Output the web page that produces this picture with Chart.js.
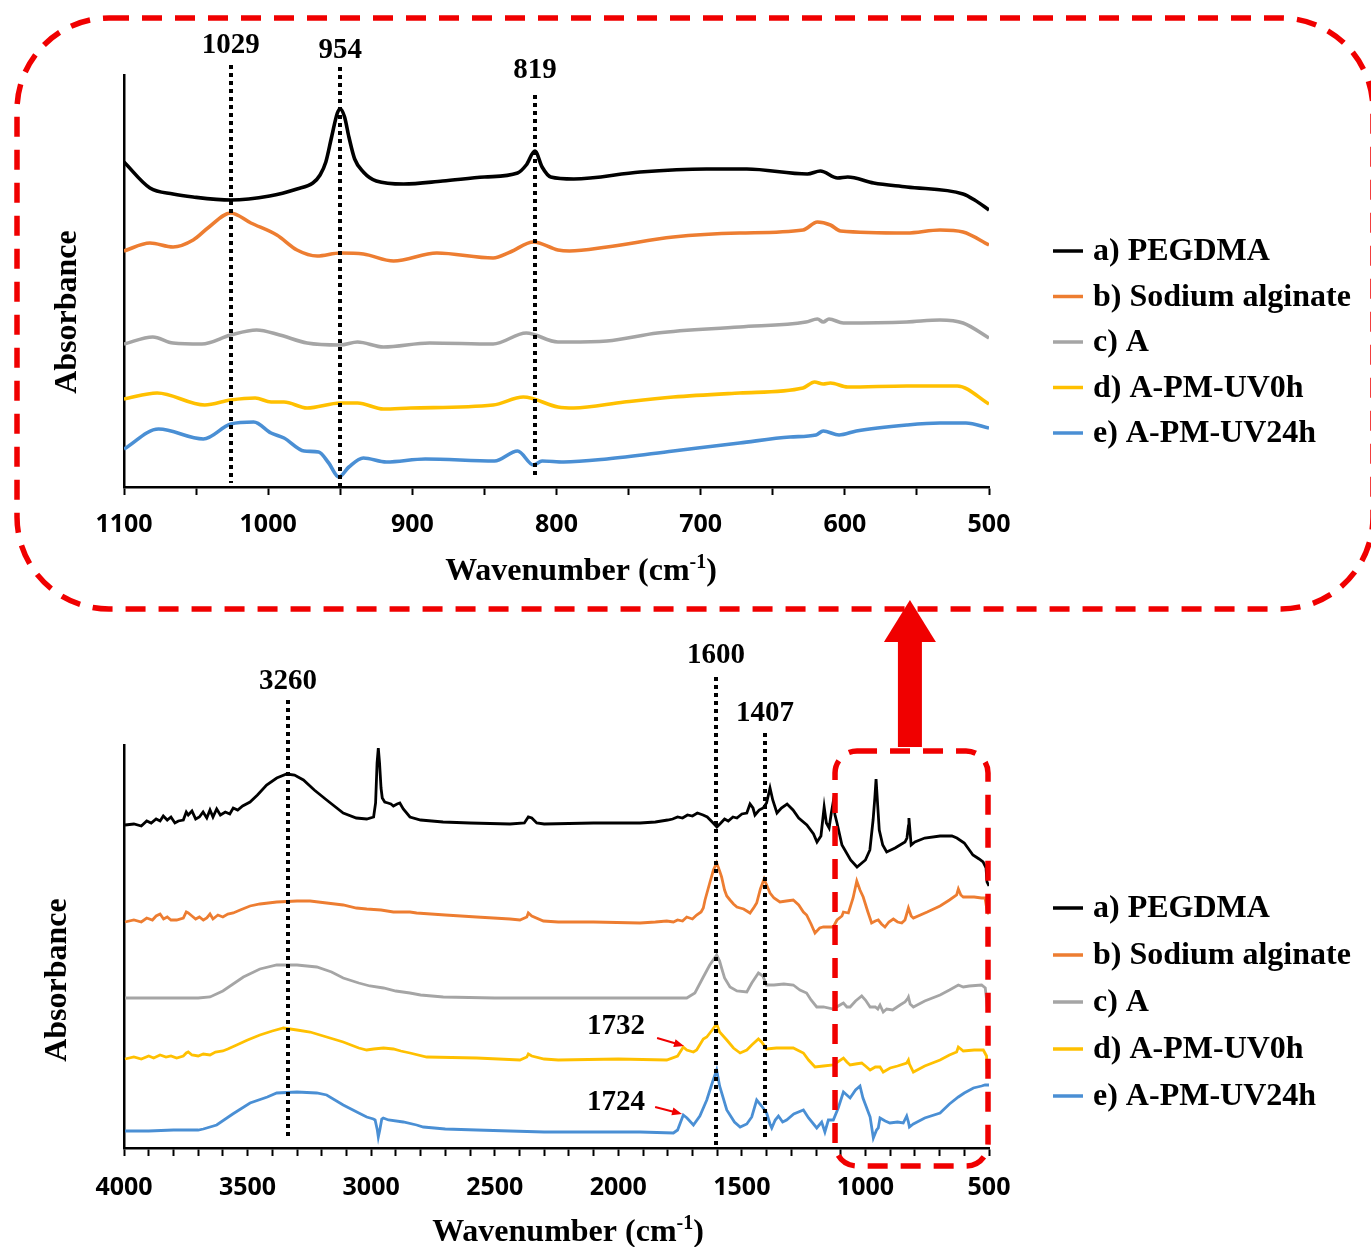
<!DOCTYPE html>
<html>
<head>
<meta charset="utf-8">
<script src="https://cdn.jsdelivr.net/npm/chart.js@4.4.1/dist/chart.umd.min.js"></script>
<style>
  html, body { margin: 0; padding: 0; background: #fff; }
  #wrap { position: relative; width: 1371px; height: 1247px; }
  #wrap canvas { position: absolute; left: 0; top: 0; }
</style>
</head>
<body>
<div id="wrap">
  <canvas id="zoomChart" width="1371" height="1247"></canvas>
  <canvas id="fullChart" width="1371" height="1247"></canvas>
</div>
<script>
// FTIR spectra - absorbance in arbitrary units (curves are offset for clarity)

const seriesLabels = ['a) PEGDMA', 'b) Sodium alginate', 'c) A', 'd) A-PM-UV0h', 'e) A-PM-UV24h'];
const seriesColors = ['#000000', '#ED7D31', '#A5A5A5', '#FFC000', '#4A8FD4'];

// ---- zoomed region 1100 - 500 cm-1 : [wavenumber, absorbance]
const zoomPEGDMA = [[1100,325],[1082,299],[1066,293],[1052,290],[1026,287],[999,291],[980,298],[969,304],[964,312],[960,325],[956,350],[952,374],[950,378],[947,370],[944,350],[940,328],[934,315],[925,306],[906,303],[879,306],[850,310],[827,314],[821,322],[815,336],[810,320],[804,310],[788,308],[742,315],[696,318],[668,318],[626,313],[617,316],[605,309],[598,310],[580,304],[557,300],[518,293],[510,287],[500,277]];
const zoomAlginate = [[1100,236],[1082,244],[1066,240],[1052,247],[1041,260],[1026,274],[1012,264],[994,252],[980,237],[966,231],[950,234],[934,233],[913,226],[883,234],[844,229],[832,235],[816,245],[799,237],[791,236],[765,240],[719,250],[673,254],[629,257],[619,265],[610,262],[603,256],[557,254],[534,257],[518,255],[500,242]];
const zoomA = [[1100,143],[1080,150],[1066,144],[1046,143],[1026,152],[1008,157],[992,152],[973,144],[950,142],[938,145],[920,140],[888,144],[844,143],[821,154],[799,145],[792,145],[765,146],[730,154],[673,160],[627,165],[619,168],[615,165],[611,168],[601,164],[557,165],[534,167],[518,164],[500,149]];
const zoomUV0h = [[1100,88],[1077,94],[1044,82],[1026,87],[1009,89],[998,85],[989,85],[973,79],[950,84],[938,84],[920,78],[901,79],[844,82],[823,90],[799,80],[788,79],[753,85],[719,90],[673,94],[629,99],[621,105],[615,103],[610,104],[598,100],[557,101],[522,101],[500,83]];
const zoomUV24h = [[1100,38],[1076,58],[1045,48],[1026,63],[1010,65],[998,54],[989,49],[975,36],[965,35],[958,24],[951,10],[944,20],[934,29],[918,25],[891,28],[843,26],[827,36],[816,22],[810,26],[795,25],[765,28],[719,36],[673,44],[638,50],[620,52],[615,56],[604,52],[592,56],[557,62],[534,64],[516,64],[500,59]];

// ---- full spectrum 4000 - 500 cm-1 : [wavenumber, absorbance]
const fullPEGDMA = [[3996,323],[3960,324],[3930,322],[3908,327],[3890,325],[3870,329],[3854,327],[3841,332],[3825,328],[3810,331],[3794,325],[3780,327],[3760,328],[3748,336],[3740,333],[3725,337],[3710,329],[3695,331],[3680,336],[3665,330],[3652,338],[3640,331],[3625,339],[3610,333],[3590,336],[3572,334],[3558,340],[3540,338],[3520,342],[3490,346],[3460,353],[3423,363],[3382,370],[3342,374],[3310,373],[3274,368],[3230,358],[3180,348],[3113,335],[3060,330],[3018,329],[2990,331],[2982,345],[2976,385],[2971,400],[2966,385],[2960,360],[2955,350],[2945,346],[2932,345],[2920,344],[2910,342],[2895,344],[2884,345],[2870,339],[2843,331],[2800,328],[2709,326],[2600,325],[2438,324],[2380,325],[2364,331],[2350,330],[2330,325],[2300,324],[2100,325],[1912,325],[1850,326],[1800,328],[1780,329],[1760,331],[1740,330],[1720,333],[1700,332],[1680,335],[1657,333],[1640,331],[1620,326],[1601,321],[1585,325],[1570,329],[1555,327],[1536,331],[1520,330],[1500,334],[1480,335],[1467,344],[1455,340],[1447,333],[1430,338],[1414,340],[1400,345],[1386,360],[1375,348],[1358,335],[1340,340],[1317,344],[1293,338],[1270,330],[1237,323],[1210,314],[1196,306],[1180,312],[1167,341],[1158,325],[1147,320],[1138,335],[1131,345],[1123,333],[1115,325],[1095,303],[1060,288],[1034,281],[1000,288],[982,298],[969,328],[962,350],[957,369],[951,345],[944,318],[930,303],[914,296],[880,300],[840,306],[832,310],[826,322],[824,330],[820,318],[815,303],[800,306],[760,310],[698,312],[650,312],[630,310],[600,305],[565,293],[540,289],[524,286],[512,280],[508,266],[500,262]];
const fullAlginate = [[3996,226],[3960,228],[3930,226],[3908,230],[3885,228],[3870,232],[3854,234],[3840,229],[3825,231],[3810,228],[3787,228],[3760,230],[3748,236],[3740,235],[3725,232],[3710,229],[3695,231],[3679,228],[3665,230],[3652,234],[3640,229],[3620,233],[3600,231],[3580,234],[3558,235],[3530,238],[3490,242],[3450,244],[3382,246],[3300,247],[3247,247],[3180,245],[3113,243],[3060,240],[3018,239],[2960,238],[2910,236],[2843,236],[2816,235],[2700,233],[2573,231],[2438,229],[2398,228],[2370,231],[2364,235],[2350,232],[2303,227],[2243,226],[2100,226],[1912,225],[1850,226],[1804,227],[1777,226],[1760,228],[1740,227],[1723,231],[1700,229],[1683,233],[1665,236],[1656,240],[1649,248],[1630,265],[1615,278],[1602,285],[1590,277],[1582,271],[1570,258],[1561,252],[1548,248],[1534,244],[1520,241],[1507,240],[1493,239],[1480,237],[1467,235],[1450,241],[1440,245],[1425,259],[1410,269],[1400,263],[1386,255],[1370,250],[1346,246],[1320,247],[1292,248],[1270,243],[1251,236],[1238,233],[1220,224],[1204,215],[1185,220],[1170,221],[1130,221],[1115,228],[1095,232],[1089,236],[1069,235],[1050,250],[1035,267],[1022,258],[1009,251],[990,236],[975,225],[960,227],[948,228],[935,224],[921,221],[905,226],[887,229],[870,226],[853,225],[840,228],[826,240],[815,232],[806,230],[750,236],[698,242],[660,248],[631,253],[624,259],[614,253],[604,251],[560,251],[530,250],[516,250],[507,236],[500,234]];
const fullA = [[3996,150],[3900,150],[3787,150],[3700,150],[3652,151],[3600,157],[3517,171],[3450,179],[3382,183],[3300,183],[3220,181],[3160,176],[3113,170],[3050,165],[3005,162],[2950,160],[2900,157],[2843,155],[2800,153],[2708,151],[2500,150],[2317,150],[1900,150],[1723,150],[1690,155],[1656,171],[1630,183],[1602,193],[1590,187],[1582,180],[1570,170],[1548,161],[1520,157],[1480,156],[1460,165],[1433,175],[1415,172],[1400,163],[1370,163],[1330,164],[1292,163],[1265,158],[1238,155],[1220,148],[1197,141],[1170,141],[1130,139],[1096,144],[1089,145],[1075,141],[1062,141],[1040,147],[1015,152],[1000,148],[981,141],[960,141],[950,139],[941,143],[928,136],[914,139],[890,138],[860,143],[840,146],[830,149],[826,151],[819,144],[806,141],[760,147],[698,153],[660,158],[624,163],[604,161],[580,162],[530,163],[515,160],[507,141],[500,137]];
const fullUV0h = [[3996,89],[3960,91],[3930,89],[3900,92],[3880,90],[3854,93],[3830,91],[3810,92],[3787,90],[3760,92],[3748,95],[3740,96],[3725,93],[3700,92],[3679,94],[3652,93],[3630,96],[3600,97],[3580,99],[3544,103],[3500,108],[3450,113],[3400,117],[3355,120],[3300,118],[3247,116],[3180,111],[3113,106],[3050,100],[3018,98],[2990,99],[2950,100],[2910,99],[2880,97],[2843,95],[2775,91],[2573,90],[2398,88],[2370,91],[2364,94],[2350,92],[2300,89],[2243,88],[2000,89],[1804,88],[1760,92],[1737,101],[1723,98],[1696,96],[1683,98],[1656,109],[1642,111],[1620,118],[1602,124],[1590,116],[1561,108],[1534,100],[1507,95],[1480,98],[1460,103],[1433,109],[1420,106],[1400,99],[1360,100],[1320,100],[1292,100],[1251,95],[1230,88],[1204,81],[1170,82],[1130,83],[1089,90],[1075,86],[1062,83],[1040,84],[1015,85],[1000,82],[981,78],[960,81],[941,81],[928,76],[900,80],[870,82],[833,85],[826,88],[822,84],[806,76],[760,82],[698,88],[660,93],[631,96],[624,101],[604,97],[560,98],[523,98],[510,92],[507,78],[500,76]];
const fullUV24h = [[3996,17],[3900,17],[3800,18],[3700,18],[3679,19],[3625,23],[3560,34],[3490,45],[3420,51],[3382,55],[3300,56],[3220,55],[3180,53],[3113,43],[3050,35],[3018,31],[2991,29],[2984,28],[2975,18],[2971,11],[2965,18],[2957,29],[2951,30],[2930,28],[2870,26],[2816,23],[2789,21],[2700,19],[2573,18],[2438,17],[2300,16],[2100,16],[1912,16],[1777,15],[1760,18],[1737,33],[1722,30],[1696,23],[1670,32],[1642,48],[1620,65],[1602,78],[1590,62],[1561,38],[1530,26],[1507,21],[1480,24],[1460,31],[1440,48],[1420,42],[1400,35],[1386,24],[1379,20],[1365,28],[1352,32],[1335,26],[1319,28],[1290,34],[1251,38],[1230,30],[1197,20],[1177,26],[1164,16],[1150,28],[1130,28],[1110,40],[1089,56],[1062,50],[1040,58],[1022,62],[1010,50],[981,31],[968,10],[955,18],[948,20],[941,30],[920,27],[901,25],[870,26],[847,25],[833,32],[826,26],[822,21],[806,24],[760,30],[698,35],[660,44],[624,51],[600,55],[563,60],[530,62],[516,63],[500,63]];

// peak markers: wavenumber of the dotted line, printed label, line span and label height (absorbance units)
const zoomMarkers = [
  { wn: 1026, text: '1029', from: 422, to: 4, at: 441 },
  { wn: 950, text: '954', from: 420, to: 0, at: 436 },
  { wn: 815, text: '819', from: 392, to: 9, at: 416 }
];
const fullMarkers = [
  { wn: 3336, text: '3260', from: 448, to: 10, at: 466 },
  { wn: 1605, text: '1600', from: 471, to: 0, at: 492 },
  { wn: 1406, text: '1407', from: 415, to: 8, at: 434 }
];
const fullNotes = [
  { text: '1732', wn: 2009, at: 121, from: [1843, 110], to: [1734, 102] },
  { text: '1724', wn: 2009, at: 45, from: [1851, 41], to: [1742, 34] }
];

const serif = '"Liberation Serif", "Times New Roman", serif';
const RED = '#f00000';

function makeDatasets(list, width, smooth) {
  return list.map((pts, i) => ({
    label: seriesLabels[i],
    data: pts.map(p => ({ x: p[0], y: p[1] })),
    borderColor: seriesColors[i],
    backgroundColor: seriesColors[i],
    borderWidth: width,
    pointRadius: 0,
    fill: false,
    cubicInterpolationMode: smooth ? 'monotone' : 'default',
    tension: 0
  }));
}

function drawXTitle(ctx, cx, cy) {
  const main = 'bold 32px ' + serif, sup = 'bold 20px ' + serif;
  ctx.font = main;
  const w1 = ctx.measureText('Wavenumber (cm').width;
  const w3 = ctx.measureText(')').width;
  ctx.font = sup;
  const w2 = ctx.measureText('-1').width;
  let x = cx - (w1 + w2 + w3) / 2;
  ctx.textAlign = 'left';
  ctx.textBaseline = 'alphabetic';
  ctx.font = main;
  ctx.fillText('Wavenumber (cm', x, cy + 11);
  ctx.font = sup;
  ctx.fillText('-1', x + w1, cy - 1);
  ctx.font = main;
  ctx.fillText(')', x + w1 + w2, cy + 11);
}

const figurePlugin = {
  id: 'figure',
  afterDraw(chart, args, o) {
    const ctx = chart.ctx, xs = chart.scales.x, ys = chart.scales.y;
    ctx.save();

    // dotted peak lines + labels
    ctx.strokeStyle = '#000';
    ctx.lineWidth = 4;
    ctx.setLineDash([4, 4]);
    o.markers.forEach(m => {
      const px = Math.round(xs.getPixelForValue(m.wn));
      ctx.beginPath();
      ctx.moveTo(px, ys.getPixelForValue(m.from));
      ctx.lineTo(px, ys.getPixelForValue(m.to));
      ctx.stroke();
    });
    ctx.setLineDash([]);
    ctx.fillStyle = '#000';
    ctx.font = 'bold 29px ' + serif;
    ctx.textAlign = 'center';
    ctx.textBaseline = 'middle';
    o.markers.forEach(m => ctx.fillText(m.text, xs.getPixelForValue(m.wn), ys.getPixelForValue(m.at)));

    // small red arrows with notes
    (o.notes || []).forEach(n => {
      ctx.fillStyle = '#000';
      ctx.fillText(n.text, xs.getPixelForValue(n.wn), ys.getPixelForValue(n.at));
      const x1 = xs.getPixelForValue(n.from[0]), y1 = ys.getPixelForValue(n.from[1]);
      const x2 = xs.getPixelForValue(n.to[0]), y2 = ys.getPixelForValue(n.to[1]);
      const a = Math.atan2(y2 - y1, x2 - x1);
      ctx.strokeStyle = RED;
      ctx.fillStyle = RED;
      ctx.lineWidth = 2;
      ctx.beginPath();
      ctx.moveTo(x1, y1);
      ctx.lineTo(x2 - 6 * Math.cos(a), y2 - 6 * Math.sin(a));
      ctx.stroke();
      ctx.beginPath();
      ctx.moveTo(x2, y2);
      ctx.lineTo(x2 - 10 * Math.cos(a) + 4 * Math.sin(a), y2 - 10 * Math.sin(a) - 4 * Math.cos(a));
      ctx.lineTo(x2 - 10 * Math.cos(a) - 4 * Math.sin(a), y2 - 10 * Math.sin(a) + 4 * Math.cos(a));
      ctx.closePath();
      ctx.fill();
    });

    // axis titles
    ctx.fillStyle = '#000';
    drawXTitle(ctx, o.xTitle[0], o.xTitle[1]);
    ctx.save();
    ctx.translate(o.yTitle[0], o.yTitle[1]);
    ctx.rotate(-Math.PI / 2);
    ctx.font = 'bold 32px ' + serif;
    ctx.textAlign = 'center';
    ctx.textBaseline = 'middle';
    ctx.fillText('Absorbance', 0, 0);
    ctx.restore();

    // legend
    ctx.font = 'bold 32px ' + serif;
    ctx.textAlign = 'left';
    ctx.textBaseline = 'middle';
    chart.data.datasets.forEach((ds, i) => {
      const y = o.legend.y + i * o.legend.step;
      ctx.strokeStyle = ds.borderColor;
      ctx.lineWidth = 3.5;
      ctx.beginPath();
      ctx.moveTo(o.legend.x, y);
      ctx.lineTo(o.legend.x + 30, y);
      ctx.stroke();
      ctx.fillStyle = '#000';
      ctx.fillText(ds.label, o.legend.x + 40, y + 1);
    });

    // red dashed frames / arrow
    ctx.strokeStyle = RED;
    ctx.fillStyle = RED;
    ctx.lineWidth = 5.5;
    ctx.setLineDash([20, 13]);
    if (o.frame === 'page') {
      ctx.beginPath();
      ctx.roundRect(17, 18, 1356, 591, 92);
      ctx.stroke();
    } else if (o.frame === 'region') {
      const l = xs.getPixelForValue(1123), r = xs.getPixelForValue(504);
      const t = ys.getPixelForValue(397), b = ys.getPixelForValue(-18);
      ctx.beginPath();
      ctx.roundRect(l, t, r - l, b - t, 22);
      ctx.stroke();
      ctx.setLineDash([]);
      const ax = xs.getPixelForValue(820);
      ctx.fillRect(ax - 12, 641, 24, t - 641 - 4);
      ctx.beginPath();
      ctx.moveTo(ax - 26, 642);
      ctx.lineTo(ax + 26, 642);
      ctx.lineTo(ax, 600);
      ctx.closePath();
      ctx.fill();
    }
    ctx.restore();
  }
};

function makeOptions(cfg) {
  return {
    responsive: false,
    animation: false,
    events: [],
    layout: { padding: cfg.padding },
    plugins: {
      legend: { display: false },
      tooltip: { enabled: false },
      figure: cfg.figure
    },
    scales: {
      x: {
        type: 'linear',
        reverse: true,
        min: 500,
        max: cfg.xMax,
        afterFit: s => { s.height = 60; },
        grid: { display: true, drawOnChartArea: false, drawTicks: true, tickLength: 8, tickWidth: 2, tickColor: '#000' },
        border: { display: true, color: '#000', width: 2.5 },
        ticks: {
          stepSize: cfg.minorStep,
          autoSkip: false,
          maxRotation: 0,
          padding: cfg.tickPad,
          color: '#000',
          font: { family: '"Open Sans", sans-serif', weight: 'bold', size: 25 },
          callback: v => (v % cfg.labelStep === 0 ? String(v) : '')
        }
      },
      y: {
        min: 0,
        max: cfg.yMax,
        afterFit: s => { s.width = 0; },
        grid: { display: false },
        ticks: { display: false },
        border: { display: true, color: '#000', width: 2.5 }
      }
    }
  };
}

new Chart(document.getElementById('zoomChart'), {
  type: 'line',
  data: { datasets: makeDatasets([zoomPEGDMA, zoomAlginate, zoomA, zoomUV0h, zoomUV24h], 3.6, true) },
  options: makeOptions({
    padding: { left: 124, right: 382, top: 75, bottom: 700 },
    xMax: 1100, minorStep: 50, labelStep: 100, yMax: 412, tickPad: 15,
    figure: {
      markers: zoomMarkers,
      xTitle: [581, 569],
      yTitle: [68, 312],
      legend: { x: 1053, y: 251, step: 45.5 },
      frame: 'page'
    }
  }),
  plugins: [figurePlugin]
});

new Chart(document.getElementById('fullChart'), {
  type: 'line',
  data: { datasets: makeDatasets([fullPEGDMA, fullAlginate, fullA, fullUV0h, fullUV24h], 2.8, false) },
  options: makeOptions({
    padding: { left: 124, right: 382, top: 745, bottom: 39 },
    xMax: 4000, minorStep: 100, labelStep: 500, yMax: 403, tickPad: 17,
    figure: {
      markers: fullMarkers,
      notes: fullNotes,
      xTitle: [568, 1230],
      yTitle: [58, 980],
      legend: { x: 1053, y: 908, step: 47 },
      frame: 'region'
    }
  }),
  plugins: [figurePlugin]
});
</script>
</body>
</html>
